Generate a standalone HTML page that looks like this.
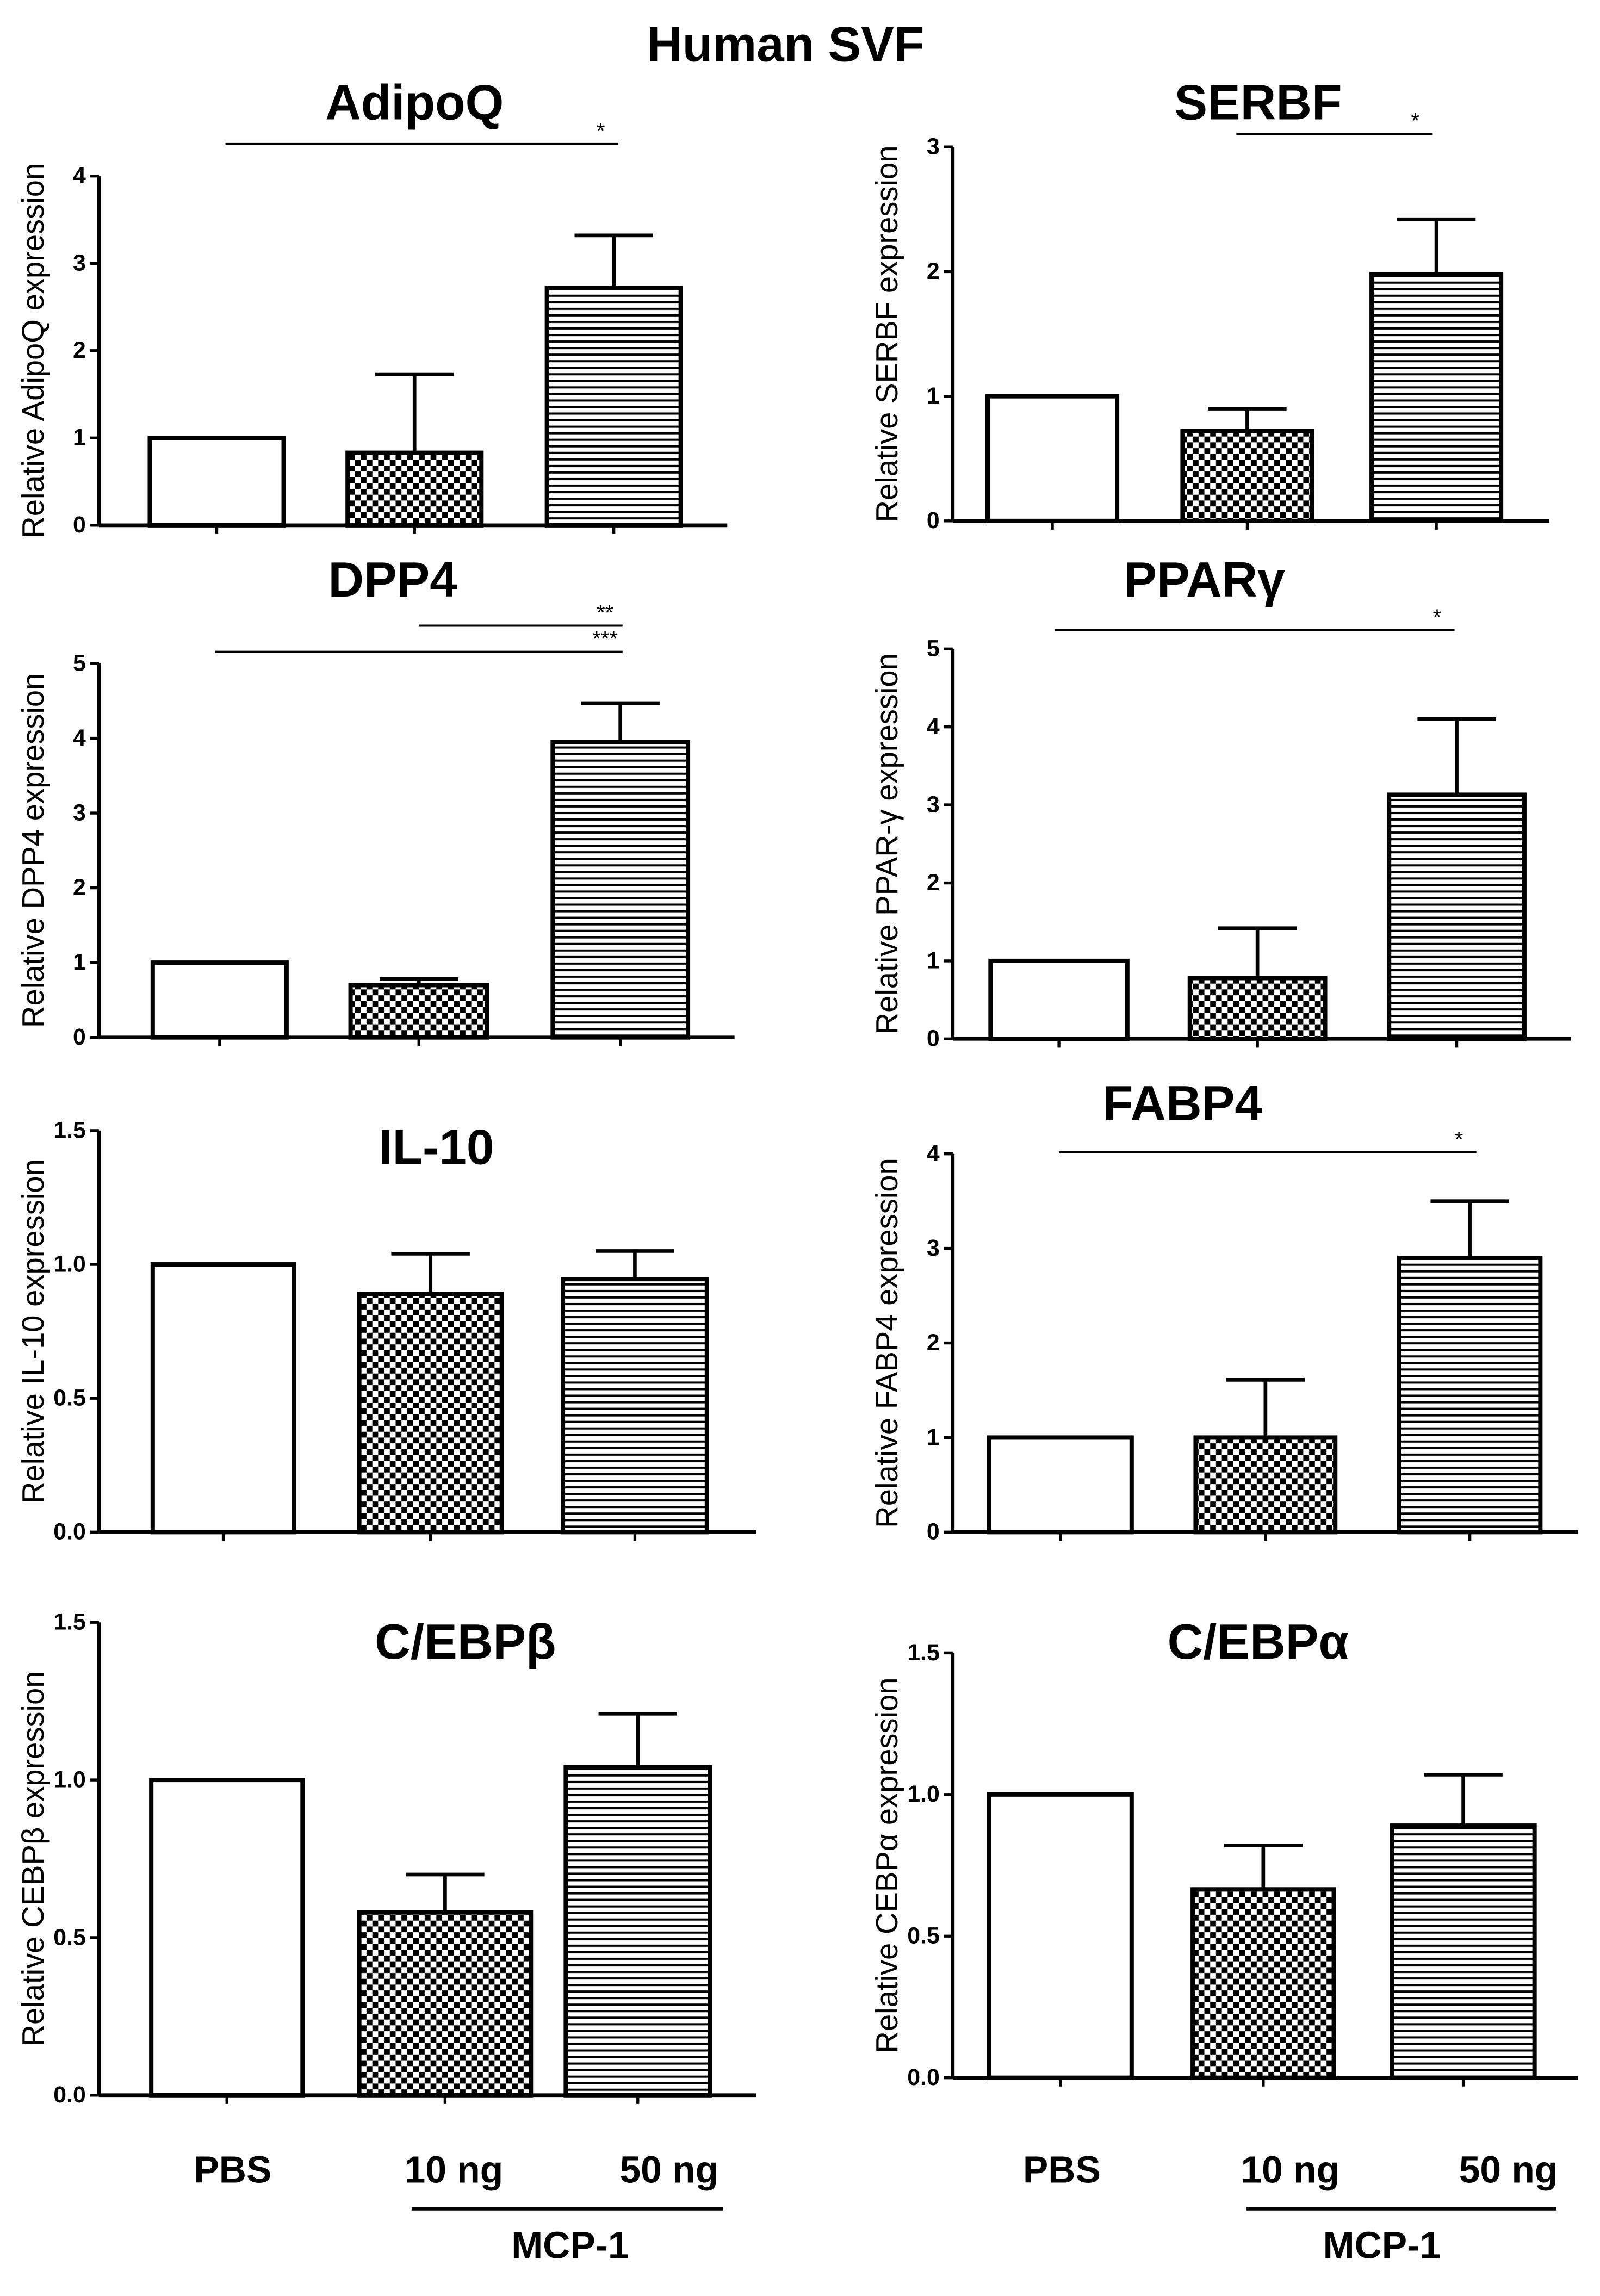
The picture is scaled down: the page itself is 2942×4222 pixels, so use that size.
<!DOCTYPE html>
<html><head><meta charset="utf-8">
<style>
html,body{margin:0;padding:0;background:#fff;}
svg{display:block;font-family:"Liberation Sans",Arial,sans-serif;}
</style></head>
<body>
<svg id="fig" width="2942" height="4222" viewBox="0 0 1100 1578" preserveAspectRatio="none" xmlns="http://www.w3.org/2000/svg">
<defs>
<pattern id="checker" width="8" height="8" patternUnits="userSpaceOnUse">
<rect width="8" height="8" fill="#fff"/>
<rect width="4" height="4" fill="#000"/>
<rect x="4" y="4" width="4" height="4" fill="#000"/>
</pattern>
<pattern id="hlines" width="8" height="4.5" patternUnits="userSpaceOnUse">
<rect width="8" height="4.5" fill="#fff"/>
<rect y="0" width="8" height="1.5" fill="#000"/>
</pattern>
</defs>
<text x="540" y="42" font-size="34" font-weight="bold" text-anchor="middle">Human SVF</text>
<g id="charts"></g>
<g font-size="26" font-weight="bold" text-anchor="middle">
<text x="160" y="1500">PBS</text><text x="312" y="1500">10 ng</text><text x="460" y="1500">50 ng</text>
<line x1="283" y1="1518" x2="497" y2="1518" stroke="#000" stroke-width="2.5"/>
<text x="392" y="1552">MCP-1</text>
</g>
<g font-size="26" font-weight="bold" text-anchor="middle">
<text x="730" y="1500">PBS</text><text x="887" y="1500">10 ng</text><text x="1037" y="1500">50 ng</text>
<line x1="857" y1="1518" x2="1070" y2="1518" stroke="#000" stroke-width="2.5"/>
<text x="950" y="1552">MCP-1</text>
</g>
</svg>
<script>
// data
const groups = ["PBS","10 ng","50 ng"];
const adipoqVals = [1, 0.83, 2.72];
const adipoqErr = [0, 0.9, 0.6];
const serbfVals = [1, 0.72, 1.98];
const serbfErr = [0, 0.18, 0.44];
const dpp4Vals = [1, 0.7, 3.95];
const dpp4Err = [0, 0.08, 0.52];
const pparVals = [1, 0.78, 3.13];
const pparErr = [0, 0.64, 0.97];
const il10Vals = [1.0, 0.89, 0.945];
const il10Err = [0, 0.15, 0.105];
const fabp4Vals = [1, 1.0, 2.9];
const fabp4Err = [0, 0.61, 0.6];
const cebpbVals = [1.0, 0.58, 1.04];
const cebpbErr = [0, 0.12, 0.17];
const cebpaVals = [1.0, 0.665, 0.89];
const cebpaErr = [0, 0.155, 0.18];
const ticks4 = ["0","1","2","3","4"];
const ticks3 = ["0","1","2","3"];
const ticks5 = ["0","1","2","3","4","5"];
const ticks15 = ["0.0","0.5","1.0","1.5"];

const panels = [
 {name:"adipoq",title:"AdipoQ",tx:285,ty:82,ylab:"Relative AdipoQ expression",ax:68,y0:361,y1:121,ticks:ticks4,vals:adipoqVals,err:adipoqErr,bars:[[103,195],[239,331],[376,468]],xend:500,sig:[[155,425,99,"*"]]},
 {name:"serbf",title:"SERBF",tx:865,ty:82,ylab:"Relative SERBF expression",ax:655,y0:358,y1:101,ticks:ticks3,vals:serbfVals,err:serbfErr,bars:[[679,768],[813,902],[943,1032]],xend:1065,sig:[[850,985,92,"*"]]},
 {name:"dpp4",title:"DPP4",tx:270,ty:410,ylab:"Relative DPP4 expression",ax:68,y0:713,y1:456,ticks:ticks5,vals:dpp4Vals,err:dpp4Err,bars:[[105,197],[241,335],[380,473]],xend:505,sig:[[288,428,430,"**"],[148,428,448,"***"]]},
 {name:"pparg",title:"PPARγ",tx:828,ty:410,ylab:"Relative PPAR-γ expression",ax:655,y0:714,y1:446,ticks:ticks5,vals:pparVals,err:pparErr,bars:[[681,775],[818,911],[955,1048]],xend:1080,sig:[[725,1000,433,"*"]]},
 {name:"il10",title:"IL-10",tx:300,ty:800,ylab:"Relative IL-10 expression",ax:68,y0:1053,y1:777,ticks:ticks15,vals:il10Vals,err:il10Err,bars:[[105,202],[247,345],[387,486]],xend:520,sig:[]},
 {name:"fabp4",title:"FABP4",tx:813,ty:770,ylab:"Relative FABP4 expression",ax:655,y0:1053,y1:793,ticks:ticks4,vals:fabp4Vals,err:fabp4Err,bars:[[680,778],[822,918],[962,1059]],xend:1085,sig:[[728,1015,792,"*"]]},
 {name:"cebpb",title:"C/EBPβ",tx:320,ty:1140,ylab:"Relative CEBPβ expression",ax:68,y0:1440,y1:1115,ticks:ticks15,vals:cebpbVals,err:cebpbErr,bars:[[104,208],[247,365],[389,488]],xend:520,sig:[]},
 {name:"cebpa",title:"C/EBPα",tx:865,ty:1140,ylab:"Relative CEBPα expression",ax:655,y0:1428,y1:1136,ticks:ticks15,vals:cebpaVals,err:cebpaErr,bars:[[680,778],[820,917],[957,1055]],xend:1085,sig:[]}
];
const NS="http://www.w3.org/2000/svg";
const root=document.getElementById('charts');
function mk(tag,attrs,parent){const e=document.createElementNS(NS,tag);for(const k in attrs)e.setAttribute(k,attrs[k]);parent.appendChild(e);return e;}
const fills=["#fff","url(#checker)","url(#hlines)"];
panels.forEach(p=>{
 const g=mk('g',{},root);
 
 
 const maxV=parseFloat(p.ticks[p.ticks.length-1]);
 const ys=v=>p.y0-(p.y0-p.y1)*v/maxV;
 const t=mk('text',{x:p.tx,y:p.ty,'font-size':34,'font-weight':'bold','text-anchor':'middle'},g);t.textContent=p.title;
 
 
 const yl=mk('text',{x:0,y:0,'font-size':21,'text-anchor':'middle',transform:`translate(${p.ax-38},${(p.y0+p.y1)/2}) rotate(-90)`},g);yl.textContent=p.ylab;
 
 
 p.vals.forEach((v,i)=>{
  const [x0,x1]=p.bars[i];const cx=(x0+x1)/2;
  if(p.err[i]>0){
   const ln=mk('line',{x1:cx,x2:cx,y1:ys(v),y2:ys(v+p.err[i]),stroke:'#000','stroke-width':2.5},g);
   
   
   mk('line',{x1:cx-27,x2:cx+27,y1:ys(v+p.err[i]),y2:ys(v+p.err[i]),stroke:'#000','stroke-width':2.5},g);
  }
  const r=mk('rect',{x:x0,y:ys(v),width:x1-x0,height:p.y0-ys(v),fill:fills[i],stroke:'#000','stroke-width':3},g);
  
  
  mk('line',{x1:cx,x2:cx,y1:p.y0,y2:p.y0+6,stroke:'#000','stroke-width':2},g);
 });
 const ya=mk('line',{x1:p.ax,x2:p.ax,y1:p.y1,y2:p.y0,stroke:'#000','stroke-width':2.5},g);
 
 
 const xa=mk('line',{x1:p.ax,x2:p.xend,y1:p.y0,y2:p.y0,stroke:'#000','stroke-width':2.5},g);
 
 
 p.ticks.forEach(tk=>{
  const y=ys(parseFloat(tk));
  mk('line',{x1:p.ax-6,x2:p.ax,y1:y,y2:y,stroke:'#000','stroke-width':2},g);
  const tl=mk('text',{x:p.ax-9,y:y+5,'font-size':16,'font-weight':'600','text-anchor':'end'},g);tl.textContent=tk;
  
  
 });
 p.sig.forEach(s=>{
  const sl=mk('line',{x1:s[0],x2:s[1],y1:s[2],y2:s[2],stroke:'#000','stroke-width':1.5},g);
  
  
  const st=mk('text',{x:s[1]-12,y:s[2]-4,'font-size':15,'text-anchor':'middle'},g);st.textContent=s[3];
  
  
 });
});
</script>
</body></html>
